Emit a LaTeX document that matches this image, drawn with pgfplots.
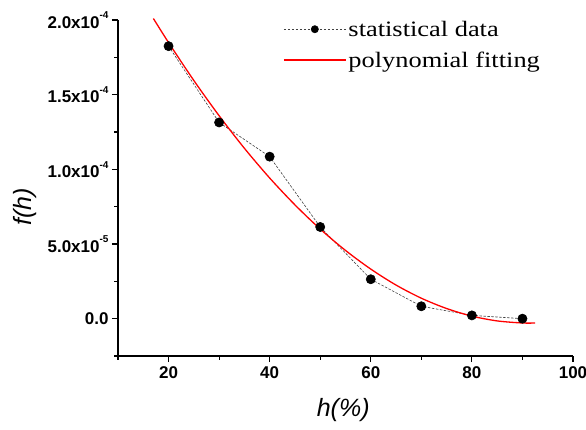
\documentclass[border=0pt]{standalone}
\usepackage{fontspec}
\setmainfont{Liberation Sans}
\newfontfamily\legendfont[FakeStretch=1.2]{Liberation Serif}
\usepackage{pgfplots}
\pgfplotsset{compat=1.18}

% measured values of f(h)
\pgfplotstableread{
h   f
20  1.825e-4
30  1.314e-4
40  1.085e-4
50  0.614e-4
60  0.264e-4
70  0.083e-4
80  0.022e-4
90  0.000e-4
}\statdata

% second-order polynomial fit, sampled along its span
\pgfplotstableread{
h     f
17    2.010e-4
20    1.849e-4
25    1.595e-4
30    1.359e-4
35    1.141e-4
40    0.942e-4
45    0.762e-4
50    0.600e-4
55    0.457e-4
60    0.332e-4
65    0.225e-4
70    0.137e-4
75    0.068e-4
80    0.017e-4
85    -0.015e-4
90    -0.029e-4
92.5  -0.029e-4
}\fitdata

\newcommand{\tl}[2]{\textbf{#1x10}\raisebox{0.55em}{\fontsize{10}{10}\selectfont\textbf{#2}}}

\begin{document}
\begin{tikzpicture}
\begin{axis}[
  name=ax,
  scale only axis,
  width=455pt, height=336pt,
  xmin=10, xmax=100,
  ymin=-2.5e-5, ymax=2.0e-4,
  axis x line*=bottom, axis y line*=left,
  axis line style={line width=1.3pt},
  every tick/.style={line width=1.2pt, black},
  tick align=outside,
  major tick length=6pt, minor tick length=3.5pt,
  xtick={20,40,60,80,100},
  xticklabels={\textbf{20},\textbf{40},\textbf{60},\textbf{80},\textbf{100}},
  minor xtick={10,30,50,70,90},
  ytick={0,5e-5,1e-4,1.5e-4,2e-4},
  yticklabels={\textbf{0.0},\tl{5.0}{-5},\tl{1.0}{-4},\tl{1.5}{-4},\tl{2.0}{-4}},
  minor ytick={-2.5e-5,2.5e-5,7.5e-5,1.25e-4,1.75e-4},
  scaled y ticks=false,
  tick label style={font=\fontsize{17}{17}\selectfont},
  xticklabel style={yshift=-1pt},
  xlabel={\itshape h(\%)},
  ylabel={\itshape f(h)},
  label style={font=\fontsize{25}{25}\selectfont},
  xlabel style={at={(axis description cs:0.495,-0.161)}, anchor=center},
  ylabel style={at={(axis description cs:-0.204,0.443)}, anchor=center},
  clip=false,
  legend style={
    at={(axis description cs:0.356,1.01)}, anchor=north west,
    draw=none, fill=none,
    font=\legendfont\fontsize{22}{24}\selectfont,
    row sep=10pt,
  },
  legend cell align=left,
  legend image code/.code={
    \draw[#1, mark repeat=2, mark phase=2, mark size=3.6pt]
      plot coordinates {(0pt,0pt) (31pt,0pt) (62pt,0pt)};
  },
]
\addplot[black!75, line width=0.6pt, dash pattern=on 2.5pt off 1.5pt,
  mark=*, mark size=4.6pt, mark options={solid, fill=black, draw=black}]
  table[x=h, y=f] {\statdata};
\addlegendentry{statistical data}
\addplot[red, line width=1.3pt, smooth, no marks]
  table[x=h, y=f] {\fitdata};
\addlegendentry{polynomial fitting}
\end{axis}
\pgfresetboundingbox
\useasboundingbox ([xshift=-118pt,yshift=-73pt]ax.south west)
  rectangle ([xshift=13pt,yshift=20pt]ax.north east);
\end{tikzpicture}
\end{document}
